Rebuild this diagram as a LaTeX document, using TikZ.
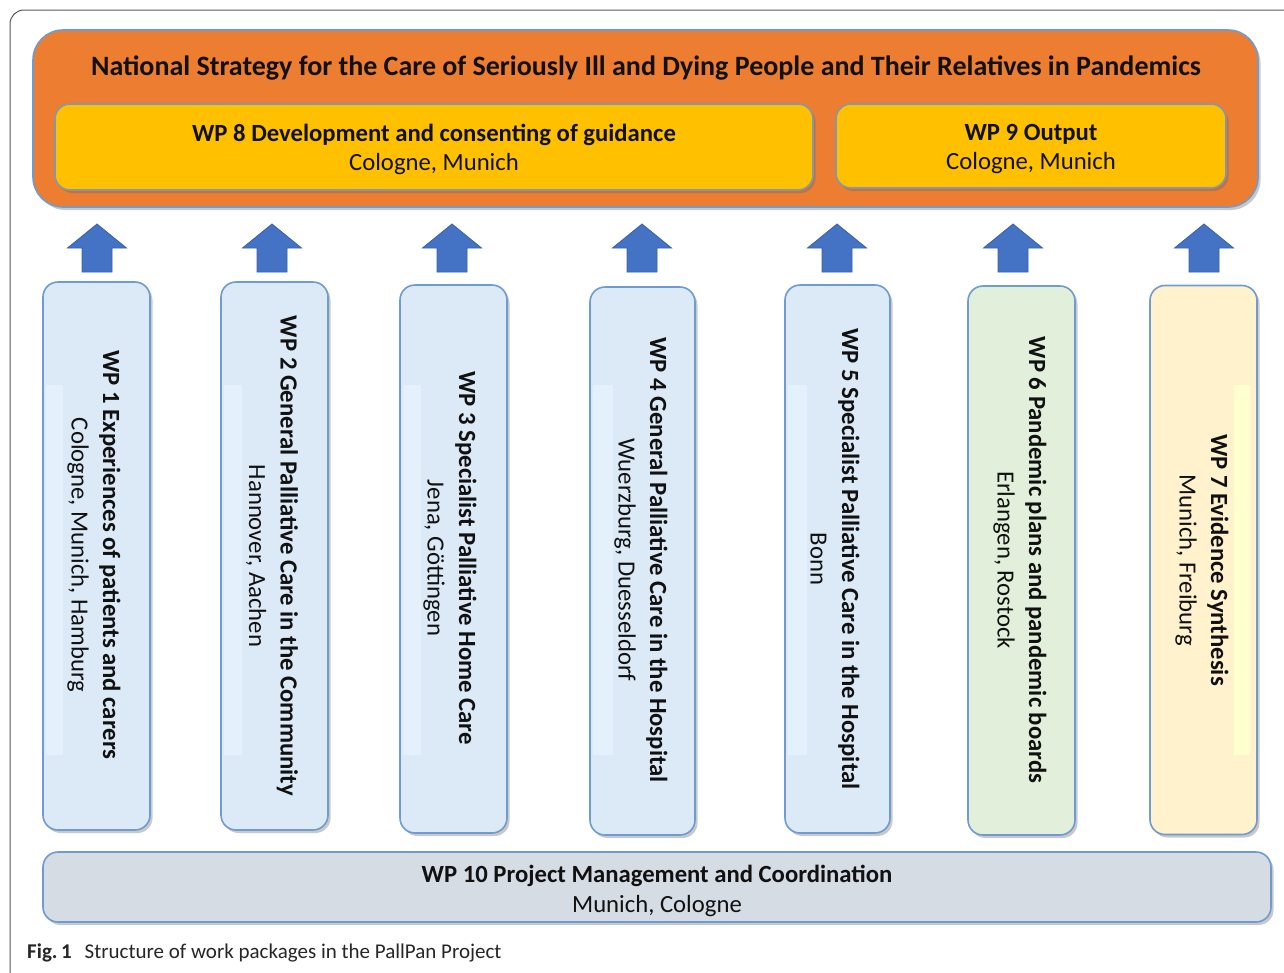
\documentclass[tikz,border=0pt]{standalone}
\usepackage{fontspec}
\setmainfont{Carlito}
\usetikzlibrary{shadows}
\definecolor{orangebg}{HTML}{ED7D31}
\definecolor{goldbox}{HTML}{FFC000}
\definecolor{boxborder}{HTML}{6F9BD3}
\definecolor{greyborder}{HTML}{8497B0}
\definecolor{lblue}{HTML}{DCE9F6}
\definecolor{lbluestrip}{HTML}{E4F0FB}
\definecolor{lgreen}{HTML}{E2EFDA}
\definecolor{lyellow}{HTML}{FFF2CC}
\definecolor{lyellowstrip}{HTML}{FFFFD0}
\definecolor{lgrey}{HTML}{D6DCE4}
\definecolor{arrowfill}{HTML}{4472C4}
\definecolor{arrowline}{HTML}{3A62A8}
\definecolor{txt}{HTML}{111111}
\tikzset{
  x=1pt, y=-1pt,
  shade/.style={drop shadow={shadow xshift=2.5pt, shadow yshift=-3pt, opacity=0.35, fill=black!60}},
  outerbox/.style={draw=boxborder, line width=1.6pt, fill=orangebg, rounded corners=30pt, shade},
  goldstyle/.style={draw=greyborder, line width=1.6pt, fill=goldbox, rounded corners=15pt, shade},
  colbox/.style={draw=boxborder, line width=1.6pt, rounded corners=15pt, shade},
  wpbox/.style={colbox, fill=lgrey},
  coltext/.style={rotate=-90, align=center, text=txt, font=\fontsize{24.7}{31.5}\selectfont, inner sep=0pt},
  headtext/.style={align=center, text=txt, inner sep=0pt},
  uparr/.pic={\filldraw[fill=arrowfill, draw=arrowline, line width=0.8pt, line join=miter]
     (-15,0) -- (-15,-24) -- (-29.5,-24) -- (0,-48) -- (29.5,-24) -- (15,-24) -- (15,0) -- cycle;}
}
\begin{document}
\begin{tikzpicture}
\useasboundingbox[fill=white] (0,0) rectangle (1284,972);
% outer frame
\begin{scope}
\clip (0,0) rectangle (1284,972);
\draw[black!65, line width=1pt, rounded corners=14pt] (10,10) rectangle (1320,985);
\end{scope}

% top orange box
\node[outerbox, minimum width=1225pt, minimum height=177pt, inner sep=0pt] (top) at (645.5,118.5) {};
\node[headtext, font=\bfseries\fontsize{28}{32}\selectfont] (title) at (646,68.5) {National Strategy for the Care of Seriously Ill and Dying People and Their Relatives in Pandemics};

\node[goldstyle, minimum width=758pt, minimum height=86pt, inner sep=0pt] (wp8) at (434,147) {};
\node[headtext, font=\fontsize{24.7}{29}\selectfont] (wp8t) at (434,149) {\textbf{WP 8 Development and consenting of guidance}\\Cologne, Munich};

\node[goldstyle, minimum width=390pt, minimum height=84pt, inner sep=0pt] (wp9) at (1031,146) {};
\node[headtext, font=\fontsize{24.7}{29}\selectfont] (wp9t) at (1031,149) {\textbf{WP 9 Output}\\Cologne, Munich};

% arrows
\foreach \ax/\nm in {97/a1,272/a2,452/a3,642/a4,837/a5,1013/a6,1204/a7}{
  \coordinate (\nm) at (\ax,272);
  \pic at (\nm) {uparr};
}

% column boxes
\node[colbox, fill=lblue, minimum width=107pt, minimum height=548pt, inner sep=0pt] (wp1) at (96.5,556) {};
\fill[lbluestrip] (46,385) rectangle (63,755);
\node[coltext] (wp1t) at (94,555) {\textbf{WP 1 Experiences of patients and carers}\\Cologne, Munich, Hamburg};

\node[colbox, fill=lblue, minimum width=107pt, minimum height=548pt, inner sep=0pt] (wp2) at (274.5,556) {};
\fill[lbluestrip] (224,385) rectangle (242,755);
\node[coltext] (wp2t) at (272,556) {\textbf{WP 2 General Palliative Care in the Community}\\Hannover, Aachen};

\node[colbox, fill=lblue, minimum width=107pt, minimum height=548pt, inner sep=0pt] (wp3) at (453.5,559) {};
\fill[lbluestrip] (403,385) rectangle (421,755);
\node[coltext] (wp3t) at (450,558) {\textbf{WP 3 Specialist Palliative Home Care}\\Jena, Göttingen};

\node[colbox, fill=lblue, minimum width=105pt, minimum height=548pt, inner sep=0pt] (wp4) at (642.5,561) {};
\fill[lbluestrip] (593,385) rectangle (613,755);
\node[coltext] (wp4t) at (641,560) {\textbf{WP 4 General Palliative Care in the Hospital}\\Wuerzburg, Duesseldorf};

\node[colbox, fill=lblue, minimum width=105pt, minimum height=548pt, inner sep=0pt] (wp5) at (837.5,559) {};
\fill[lbluestrip] (788,385) rectangle (807,755);
\node[coltext] (wp5t) at (835,559) {\textbf{WP 5 Specialist Palliative Care in the Hospital}\\Bonn};

\node[colbox, fill=lgreen, minimum width=107pt, minimum height=549pt, inner sep=0pt] (wp6) at (1021.5,560.5) {};
\node[coltext] (wp6t) at (1020,560) {\textbf{WP 6 Pandemic plans and pandemic boards}\\Erlangen, Rostock};

\node[colbox, fill=lyellow, minimum width=107pt, minimum height=549pt, inner sep=0pt] (wp7) at (1203.5,560) {};
\fill[lyellowstrip] (1234,385) rectangle (1250,755);
\node[coltext] (wp7t) at (1202,560) {\textbf{WP 7 Evidence Synthesis}\\Munich, Freiburg};

% bottom box
\node[wpbox, minimum width=1228pt, minimum height=70pt, inner sep=0pt] (wp10) at (657,887) {};
\node[headtext, font=\fontsize{24.7}{30}\selectfont] (wp10t) at (657,891) {\textbf{WP 10 Project Management and Coordination}\\Munich, Cologne};

% caption
\node[anchor=west, inner sep=0pt, text=black!85, font=\fontsize{21}{24}\selectfont] (cap) at (27,953) {\textbf{Fig.\,1}\hspace{13pt}Structure of work packages in the PallPan Project};
\end{tikzpicture}
\end{document}
